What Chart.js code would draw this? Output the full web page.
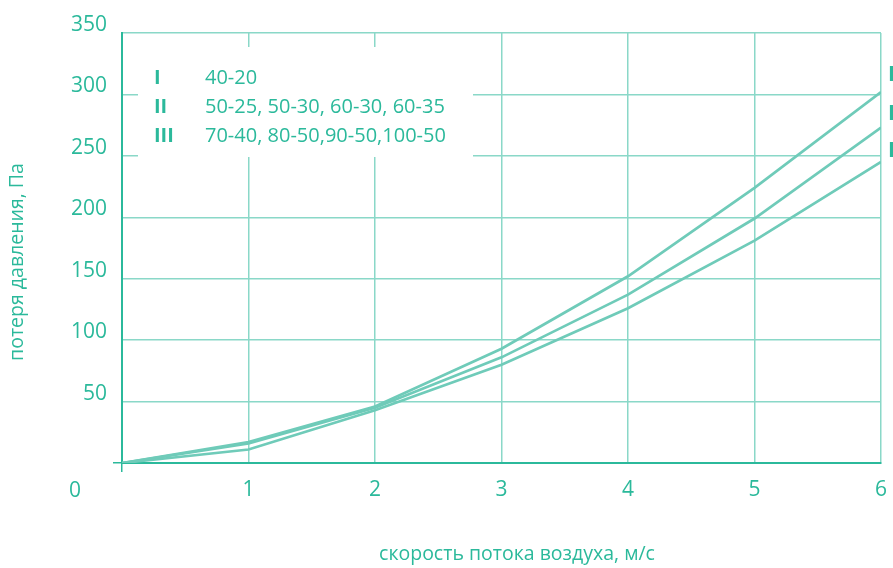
<!DOCTYPE html>
<html>
<head>
<meta charset="utf-8">
<script src="https://cdn.jsdelivr.net/npm/chart.js@4"></script>
<style>
  html, body { margin: 0; padding: 0; background: #fff; }
  #wrap { width: 893px; height: 568px; }
</style>
</head>
<body>
<div id="wrap"><canvas id="myChart"></canvas></div>
<script>
// air speed, m/s
const speeds = [0, 1, 2, 3, 4, 5, 6];
// pressure loss, Pa
const lossI   = [0, 17, 46, 93, 152, 224, 302];
const lossII  = [0, 16, 45, 86, 137, 199, 273];
const lossIII = [0, 11, 43, 80, 126, 181, 245];

const seriesNames = ['I', 'II', 'III'];
const legendSizes = ['40-20', '50-25, 50-30, 60-30, 60-35', '70-40, 80-50,90-50,100-50'];

const yTitle = 'потеря давления, Па';
const xTitle = 'скорость потока воздуха, м/с';

const textColor = '#2bb99b';
const lineColor = '#6fcbb9';
const gridColor = '#8ad8c8';
const font = '"Open Sans", "Noto Sans", sans-serif';

function toPoints(vals) {
  return vals.map((v, i) => ({ x: speeds[i], y: v }));
}

// legend box, roman labels at the right edge, axis titles
const extras = {
  id: 'extras',
  beforeDatasetsDraw(chart) {
    const ctx = chart.ctx;
    const a = chart.chartArea;
    ctx.save();
    // white box over the grid
    ctx.fillStyle = '#fff';
    ctx.fillRect(a.left + 16, a.top + 14, 335, 110);
    ctx.fillStyle = textColor;
    ctx.textBaseline = 'middle';
    seriesNames.forEach((n, i) => {
      const y = a.top + 45 + i * 29;
      ctx.font = 'bold 20px ' + font;
      ctx.textAlign = 'left';
      ctx.fillText(n, a.left + 32, y);
      ctx.font = '20px ' + font;
      ctx.fillText(legendSizes[i], a.left + 83, y);
    });
    ctx.restore();
  },
  afterDraw(chart) {
    const ctx = chart.ctx;
    const a = chart.chartArea;
    ctx.save();
    ctx.fillStyle = textColor;
    ctx.textBaseline = 'middle';
    // labels at the end of each curve (clipped by the canvas edge)
    ctx.font = 'bold 21px ' + font;
    ctx.textAlign = 'left';
    const lift = [17, 14, 11];
    chart.data.datasets.forEach((ds, i) => {
      const meta = chart.getDatasetMeta(i);
      const p = meta.data[meta.data.length - 1];
      ctx.fillText(seriesNames[i], p.x + 7, p.y - lift[i]);
    });
    // zero at the corner
    ctx.font = '21px ' + font;
    ctx.textAlign = 'center';
    ctx.fillText('0', a.left - 47, a.bottom + 28);
    // axis titles
    ctx.font = '19.5px ' + font;
    ctx.fillText(xTitle, a.left + 395, a.bottom + 91);
    ctx.translate(17, a.top + 229);
    ctx.rotate(-Math.PI / 2);
    ctx.fillText(yTitle, 0, 0);
    ctx.restore();
  }
};

const ctx = document.getElementById('myChart').getContext('2d');
const chart = new Chart(ctx, {
  type: 'line',
  data: {
    datasets: [lossI, lossII, lossIII].map((vals, i) => ({
      label: seriesNames[i],
      data: toPoints(vals),
      borderColor: lineColor,
      borderWidth: 2.7,
      pointRadius: 0,
      tension: 0,
      fill: false
    }))
  },
  options: {
    responsive: true,
    maintainAspectRatio: false,
    animation: false,
    layout: { padding: { top: 33, right: 12, left: 0, bottom: 0 } },
    plugins: {
      legend: { display: false },
      tooltip: { enabled: false }
    },
    scales: {
      x: {
        type: 'linear',
        min: 0,
        max: 6,
        afterFit(scale) { scale.height = 105; },
        border: { color: textColor, width: 2 },
        grid: {
          color: gridColor,
          lineWidth: 1.5,
          tickLength: 9,
          tickColor: c => c.tick && c.tick.value === 0 ? textColor : 'rgba(0,0,0,0)'
        },
        ticks: {
          stepSize: 1,
          color: textColor,
          font: { family: font, size: 21 },
          padding: 5,
          callback: v => v === 0 ? '' : v
        }
      },
      y: {
        min: 0,
        max: 350,
        afterFit(scale) { scale.width = 122; },
        border: { color: textColor, width: 2 },
        grid: {
          color: gridColor,
          lineWidth: 1.5,
          tickLength: 9,
          tickColor: c => c.tick && c.tick.value === 0 ? textColor : 'rgba(0,0,0,0)'
        },
        ticks: {
          stepSize: 50,
          color: textColor,
          font: { family: font, size: 21 },
          padding: 6,
          labelOffset: -8,
          callback: v => v === 0 ? '' : v
        }
      }
    }
  },
  plugins: [extras]
});
</script>
</body>
</html>
